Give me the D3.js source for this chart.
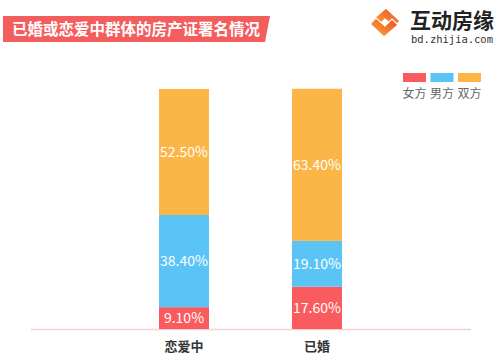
<!DOCTYPE html>
<html>
<head>
<meta charset="utf-8">
<script src="https://cdn.jsdelivr.net/npm/d3@7"></script>
<style>
  html, body { margin: 0; padding: 0; background: #fff; }
  svg { display: block; font-family: "Noto Sans CJK SC", "Noto Sans", sans-serif; }
</style>
</head>
<body>
<svg id="chart" width="500" height="363"></svg>
<script>
// 데이터
var categories = ['恋爱中', '已婚'];
var seriesNames = ['女方', '男方', '双方'];
var seriesColors = ['#f95b5e', '#5bc4f7', '#fbb647'];
var female = [9.1, 17.6];
var male = [38.4, 19.1];
var both = [52.5, 63.4];
var title = '已婚或恋爱中群体的房产证署名情况';

var svg = d3.select('#chart');

// 제목 배너
svg.append('path')
    .attr('d', 'M3,16 L270,16 L265,42 L3,42 Z')
    .attr('fill', '#f45d5e');
svg.append('text')
    .attr('x', 12).attr('y', 35)
    .attr('fill', '#fff')
    .attr('font-size', 15.5)
    .attr('font-weight', 700)
    .text(title);

// 로고
var grad = svg.append('defs').append('linearGradient')
    .attr('id', 'lg').attr('x1', 0).attr('y1', 1).attr('x2', 1).attr('y2', 0);
grad.append('stop').attr('offset', '0%').attr('stop-color', '#fbb03b');
grad.append('stop').attr('offset', '100%').attr('stop-color', '#ee4a22');
var logo = svg.append('g').attr('fill', 'url(#lg)').attr('stroke', '#fff').attr('stroke-width', 1.2);
logo.append('path').attr('d', 'M386,8 L400,21 L394,27 L385,19 L378,26 L372,20 Z');
logo.append('path').attr('d', 'M384,37 L370,24 L376,18 L385,26 L392,19 L398,25 Z');
svg.append('text')
    .attr('x', 410).attr('y', 28)
    .attr('font-size', 21).attr('font-weight', 700).attr('fill', '#222')
    .text('互动房缘');
svg.append('text')
    .attr('x', 411).attr('y', 43)
    .attr('font-size', 10.5).attr('fill', '#333')
    .attr('font-family', '"DejaVu Sans Mono", monospace')
    .attr('textLength', 82)
    .text('bd.zhijia.com');

// 스케일
var x = d3.scaleBand().domain(categories).range([79.2, 421.8]).paddingInner(0.624).paddingOuter(0.6);
var y = d3.scaleLinear().domain([0, 100]).range([329, 89]);

var rows = categories.map(function (c, i) {
    return { cat: c, '女方': female[i], '男方': male[i], '双方': both[i] };
});
var stacked = d3.stack().keys(seriesNames)(rows);

// 기준선
svg.append('line')
    .attr('x1', 31).attr('x2', 471)
    .attr('y1', y(0) + 0.5).attr('y2', y(0) + 0.5)
    .attr('stroke', '#fbd0d0').attr('stroke-width', 1.5);

var layer = svg.append('g').selectAll('g').data(stacked).join('g')
    .attr('fill', function (d, i) { return seriesColors[i]; });

layer.selectAll('rect')
    .data(function (d) { return d; })
    .join('rect')
    .attr('x', function (d) { return x(d.data.cat); })
    .attr('width', x.bandwidth())
    .attr('y', function (d) { return y(d[1]); })
    .attr('height', function (d) { return y(d[0]) - y(d[1]); });

layer.selectAll('text')
    .data(function (d) { return d.map(function (p) { return { p: p, key: d.key }; }); })
    .join('text')
    .attr('x', function (d) { return x(d.p.data.cat) + x.bandwidth() / 2; })
    .attr('y', function (d) { return (y(d.p[0]) + y(d.p[1])) / 2 + 5; })
    .attr('text-anchor', 'middle')
    .attr('fill', '#fff')
    .attr('font-size', 14)
    .text(function (d) { return d.p.data[d.key].toFixed(2) + '%'; });

// 카테고리 축
var xAxis = svg.append('g')
    .attr('transform', 'translate(0,' + y(0) + ')')
    .call(d3.axisBottom(x).tickSize(0).tickPadding(13));
xAxis.select('.domain').remove();
xAxis.selectAll('text')
    .attr('font-size', 13).attr('font-weight', 700).attr('fill', '#333')
    .attr('font-family', '"Noto Sans CJK SC", sans-serif');

// 범례
var legend = svg.append('g').selectAll('g').data(seriesNames).join('g')
    .attr('transform', function (d, i) { return 'translate(' + (403 + i * 27.5) + ',0)'; });
legend.append('rect')
    .attr('x', 0).attr('y', 73).attr('width', 23).attr('height', 9)
    .attr('fill', function (d, i) { return seriesColors[i]; });
legend.append('text')
    .attr('x', 11.5).attr('y', 98)
    .attr('text-anchor', 'middle')
    .attr('font-size', 12).attr('fill', '#666')
    .text(function (d) { return d; });
</script>
</body>
</html>
